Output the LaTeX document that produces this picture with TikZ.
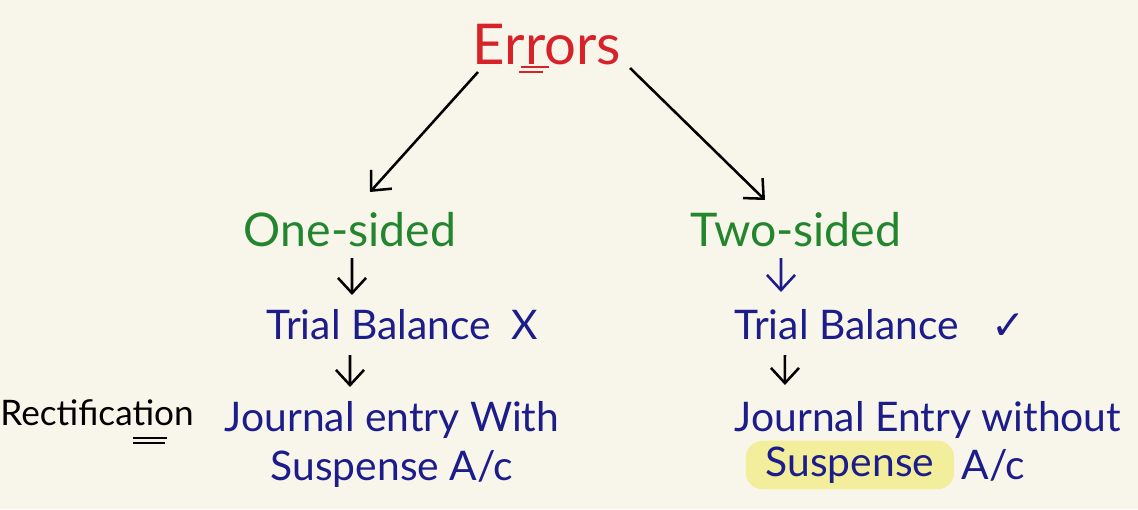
\documentclass[tikz,border=0pt]{standalone}
\usepackage{fontspec}
\setmainfont{Lato}
\newfontfamily\symfont{DejaVu Sans}
\usetikzlibrary{arrows.meta, positioning}
\definecolor{paper}{HTML}{F8F6EA}
\definecolor{errred}{HTML}{D8222A}
\definecolor{sidegreen}{HTML}{23862E}
\definecolor{inkblue}{HTML}{1C1C8A}
\definecolor{hlyellow}{HTML}{F3EE9C}
\tikzset{
	hand/.style={-{Straight Barb[length=3.8mm,width=7mm]}, line width=1.8pt},
	headline/.style={text=errred, font=\fontsize{40}{44}\selectfont},
	branch/.style={text=sidegreen, font=\fontsize{33}{36}\selectfont},
	entry/.style={text=inkblue, font=\fontsize{29}{32}\selectfont},
}
\begin{document}
\begin{tikzpicture}[x=0.025cm, y=-0.025cm, node distance=0.1cm and 0.1cm]
	\fill[paper] (0,0) rectangle (1138,509);
	\useasboundingbox (0,0) rectangle (1138,509);
	% top
	\node[headline] (err) at (547,45) {Errors};
	\draw[errred, line width=1.5pt] ([xshift=-0.65cm,yshift=-0.55cm]err.center) -- ++(0.7cm,0)
		([xshift=-0.7cm,yshift=-0.68cm]err.center) -- ++(0.6cm,0);
	% the two kinds
	\node[branch] (one) at (350,230) {One-sided};
	\node[branch] (two) at (796,230) {Two-sided};
	\draw[hand] ([xshift=-1.725cm,yshift=-0.675cm]err.center) -- ([xshift=0.5cm,yshift=0.95cm]one.center);
	\draw[hand] ([xshift=2.075cm,yshift=-0.575cm]err.center) -- ([xshift=-0.775cm,yshift=0.75cm]two.center);
	% trial balance
	\node[entry] (tbl) at (402,325) {Trial Balance\hspace{0.5em}X};
	\node[entry] (tbr) at (880,325) {Trial Balance\hspace{0.8em}{\symfont ✓}};
	\draw[hand] ([xshift=0.05cm,yshift=-0.7cm]one.center) -- ([xshift=-1.25cm,yshift=0.75cm]tbl.center);
	\draw[hand, inkblue] ([xshift=-0.375cm,yshift=-0.7cm]two.center) -- ([xshift=-2.475cm,yshift=0.825cm]tbr.center);
	% rectification
	\node[text=black, font=\fontsize{25}{28}\selectfont] (rect) at (97,413) {Rectification};
	\draw[line width=1.3pt] ([xshift=0.9cm,yshift=-0.62cm]rect.center) -- ++(0.85cm,0)
		([xshift=0.9cm,yshift=-0.74cm]rect.center) -- ++(0.8cm,0);
	\node[entry] (jl1) at (392,420) {Journal entry With};
	\node[entry, below=0.05cm of jl1] (jl2) {Suspense A/c};
	\node[entry] (jr1) at (928,420) {Journal Entry without};
	\node[entry, fill=hlyellow, rounded corners=12pt, inner xsep=0.5cm, inner ysep=0.15cm] (susr) at (850,465) {Suspense};
	\node[entry, right=0.05cm of susr] (acr) {A/c};
	\draw[hand] ([xshift=-1.3cm,yshift=-0.75cm]tbl.center) -- ([xshift=-1.05cm,yshift=0.825cm]jl1.center);
	\draw[hand] ([xshift=-2.375cm,yshift=-0.75cm]tbr.center) -- ([xshift=-3.575cm,yshift=0.875cm]jr1.center);
\end{tikzpicture}
\end{document}
